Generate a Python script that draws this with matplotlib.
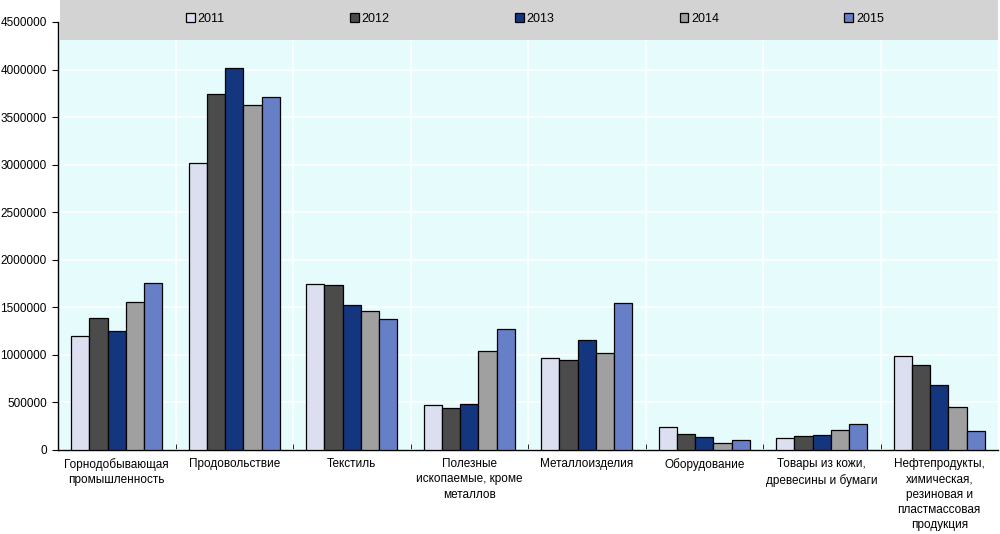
import matplotlib
matplotlib.use("Agg")
import matplotlib.pyplot as plt
import numpy as np
from matplotlib.patches import Rectangle

categories = [
    "Горнодобывающая\nпромышленность",
    "Продовольствие",
    "Текстиль",
    "Полезные\nископаемые, кроме\nметаллов",
    "Металлоизделия",
    "Оборудование",
    "Товары из кожи,\nдревесины и бумаги",
    "Нефтепродукты,\nхимическая,\nрезиновая и\nпластмассовая\nпродукция",
]
years = ["2011", "2012", "2013", "2014", "2015"]
v2011 = [1197000, 3015000, 1744000, 473000, 966000, 242000, 126000, 987000]
v2012 = [1387000, 3740000, 1733000, 441000, 945000, 168000, 147000, 893000]
v2013 = [1250000, 4013000, 1523000, 483000, 1155000, 137000, 158000, 683000]
v2014 = [1555000, 3624000, 1460000, 1040000, 1019000, 74000, 210000, 452000]
v2015 = [1755000, 3708000, 1376000, 1271000, 1544000, 105000, 273000, 200000]
series = [v2011, v2012, v2013, v2014, v2015]
colors = ["#DCDFF0", "#4B4B4B", "#13367F", "#A0A0A0", "#667FC7"]

plt.rcParams['font.family'] = ['Liberation Sans Narrow', 'Liberation Sans', 'DejaVu Sans']

fig = plt.figure(figsize=(10, 5.34), dpi=100)
ax = fig.add_axes([0.058, 1 - 450 / 534, 0.94, (450 - 22) / 534])
ax.set_facecolor("#E6FCFC")

x = np.arange(len(categories))
w = 0.155
handles = []
for i, (vals, c) in enumerate(zip(series, colors)):
    b = ax.bar(x + (i - 2) * w, vals, width=w, color=c, edgecolor="black",
               linewidth=0.9, zorder=3, label=years[i])
    handles.append(b)

ax.set_xlim(-0.5, len(categories) - 0.5)
ax.set_ylim(0, 4500000)
ax.set_yticks(np.arange(0, 4500001, 500000))
ax.set_yticklabels([str(int(t)) for t in np.arange(0, 4500001, 500000)], fontsize=8.5)
ax.yaxis.grid(True, color="white", linewidth=1.2, zorder=0)
for b in np.arange(0.5, len(categories) - 0.5, 1):
    ax.axvline(b, color="white", linewidth=1.2, zorder=0)

ax.set_xticks(x)
ax.set_xticklabels(categories, fontsize=8.5, linespacing=1.35)
ax.tick_params(axis="x", length=0, pad=6)
ax.set_xticks(np.arange(0.5, len(categories) - 0.5, 1), minor=True)
ax.tick_params(axis="x", which="minor", direction="in", length=4, color="black")
ax.tick_params(axis="y", direction="out", length=4, pad=4)

for s in ["top", "right"]:
    ax.spines[s].set_visible(False)
ax.spines["left"].set_linewidth(1)
ax.spines["bottom"].set_linewidth(1)

# legend band
band = Rectangle((0.06, 1 - 40 / 534), 0.938, 40 / 534, transform=fig.transFigure,
                 facecolor="#D3D3D3", edgecolor="none", zorder=5)
fig.add_artist(band)
leg = fig.legend(handles=handles, labels=years, loc="center", bbox_to_anchor=(0.535, 1 - 19 / 534),
                 ncol=5, frameon=False, fontsize=9, handlelength=0.7, handleheight=0.7,
                 handletextpad=0.25, columnspacing=10.0)
leg.set_zorder(6)

fig.savefig("out.png", dpi=100)
